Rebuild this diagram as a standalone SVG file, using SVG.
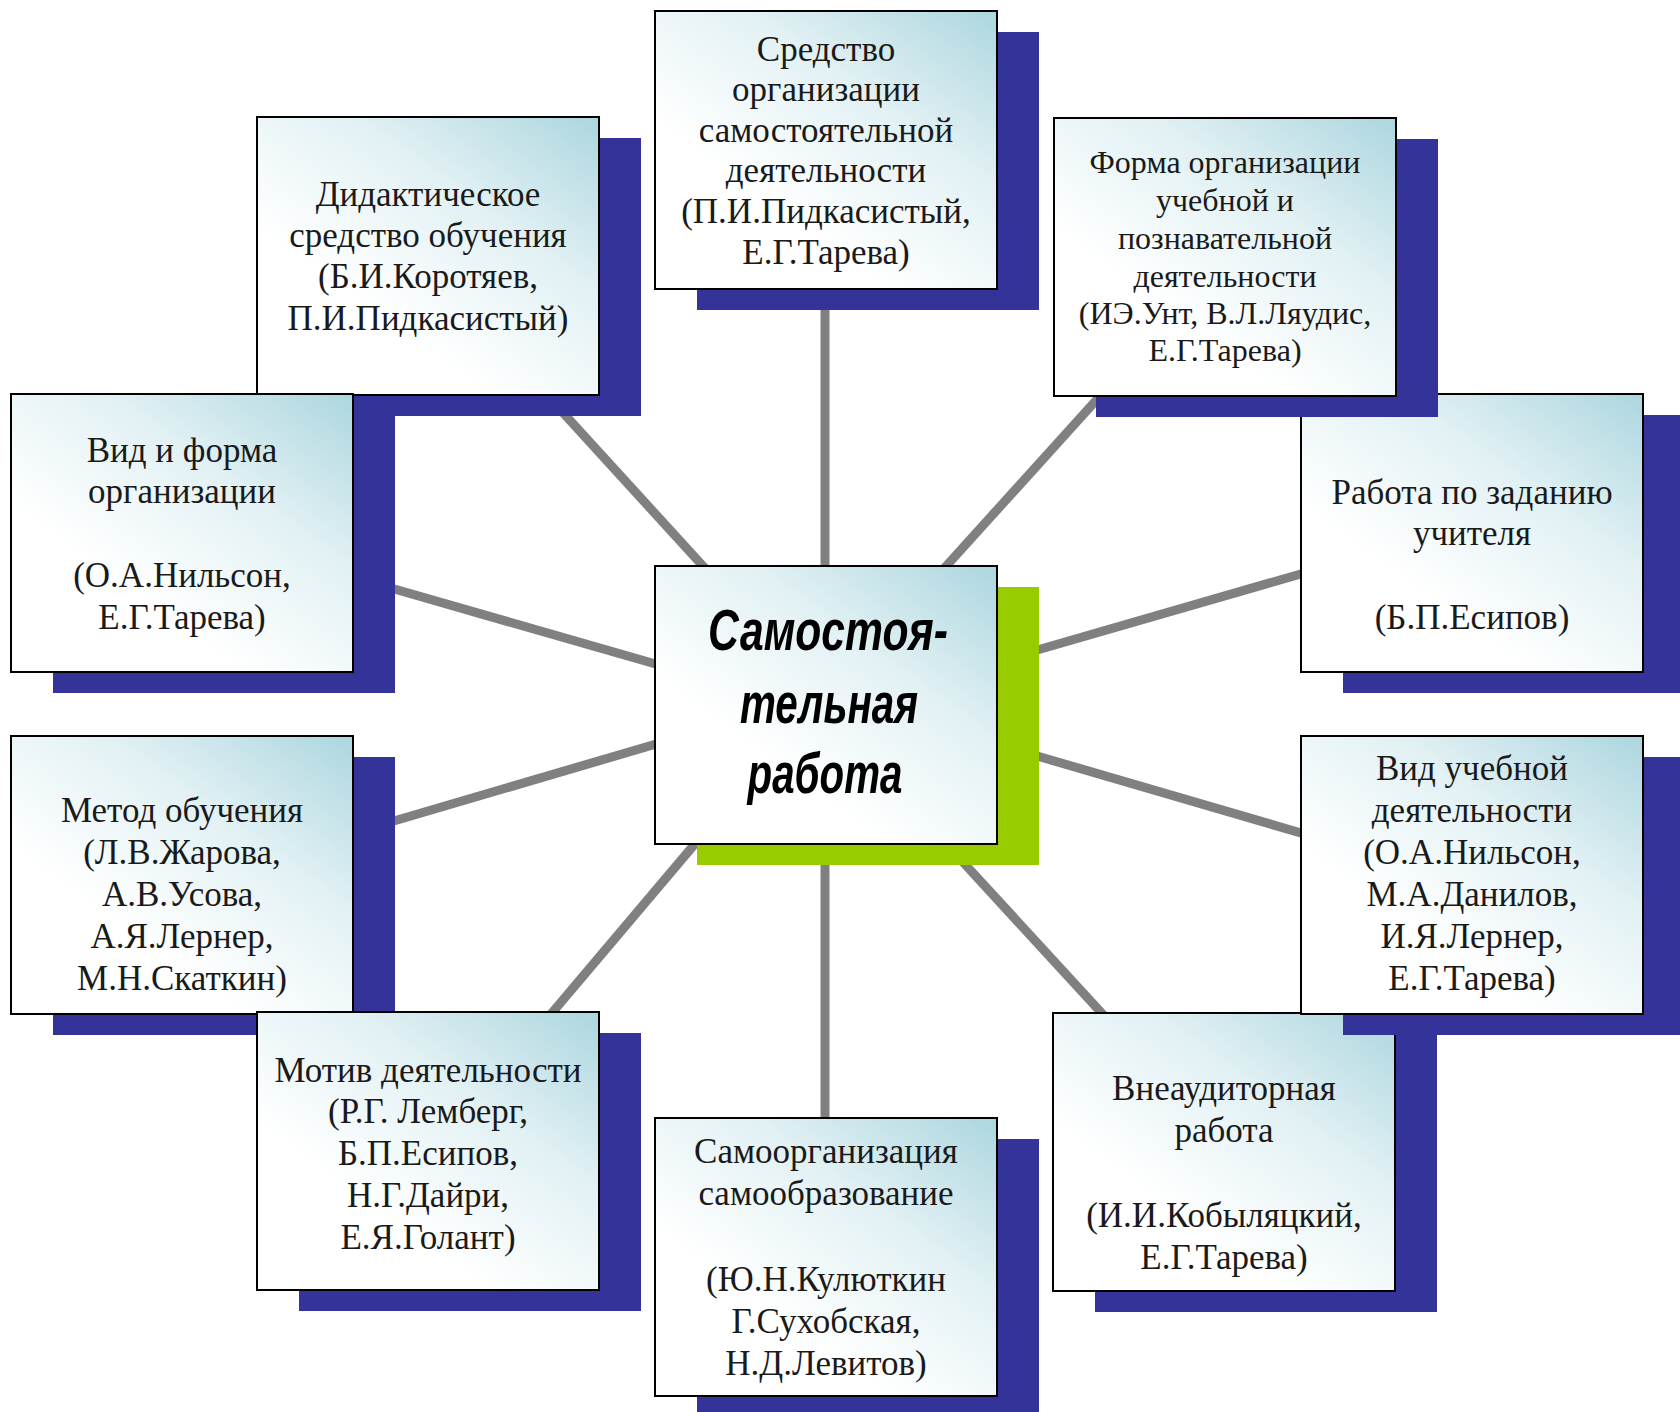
<svg xmlns="http://www.w3.org/2000/svg" width="1680" height="1412" viewBox="0 0 1680 1412">
<defs>
<linearGradient id="boxgrad" x1="1" y1="0" x2="0.2" y2="0.9">
<stop offset="0" stop-color="#acd6df"/>
<stop offset="0.4" stop-color="#e2f1f4"/>
<stop offset="0.8" stop-color="#ffffff"/>
</linearGradient>
<style>
.shadow{fill:#333399}
.gshadow{fill:#99cc00}
.box{fill:url(#boxgrad);stroke:#000;stroke-width:2}
.t{font-family:"Liberation Serif","Times New Roman",serif;font-size:35px;fill:#1a1a1a;text-anchor:middle}
.ts{font-size:32px}
.c{font-family:"Liberation Sans",Arial,sans-serif;font-size:58px;font-weight:bold;font-style:italic;fill:#000;text-anchor:middle}
.ln{stroke:#808080;stroke-width:9;fill:none}
</style>
</defs>
<rect width="1680" height="1412" fill="#ffffff"/>
<g id="connectors">
<line class="ln" x1="825" y1="600" x2="825" y2="270" stroke-width="10"/>
<line class="ln" x1="723" y1="588" x2="545" y2="393" stroke-width="8"/>
<line class="ln" x1="930" y1="584" x2="1110" y2="385" stroke-width="8"/>
<line class="ln" x1="680" y1="671" x2="370" y2="582"/>
<line class="ln" x1="1020" y1="655" x2="1325" y2="567"/>
<line class="ln" x1="680" y1="737" x2="370" y2="828"/>
<line class="ln" x1="1020" y1="751" x2="1325" y2="840"/>
<line class="ln" x1="710" y1="826" x2="535" y2="1033" stroke-width="10"/>
<line class="ln" x1="825" y1="820" x2="825" y2="1140" stroke-width="10"/>
<line class="ln" x1="950" y1="848" x2="1120" y2="1033" stroke-width="8"/>
</g>
<g id="center">
<rect class="gshadow" x="697" y="587" width="342" height="278"/>
<rect class="box" x="655" y="566" width="342" height="278"/>
<text class="c"><tspan x="828" y="650" textLength="240" lengthAdjust="spacingAndGlyphs">Самостоя-</tspan><tspan x="829" y="723" textLength="178" lengthAdjust="spacingAndGlyphs">тельная</tspan><tspan x="825" y="793" textLength="155" lengthAdjust="spacingAndGlyphs">работа</tspan></text>
</g>
<g id="n-sredstvo">
<rect class="shadow" x="697" y="32" width="342" height="278"/>
<rect class="box" x="655" y="11" width="342" height="278"/>
<text class="t"><tspan x="826" y="61">Средство</tspan><tspan x="826" y="101">организации</tspan><tspan x="826" y="142">самостоятельной</tspan><tspan x="826" y="182">деятельности</tspan><tspan x="826" y="223">(П.И.Пидкасистый,</tspan><tspan x="826" y="264">Е.Г.Тарева)</tspan></text>
</g>
<g id="n-rabota">
<rect class="shadow" x="1343" y="415" width="342" height="278"/>
<rect class="box" x="1301" y="394" width="342" height="278"/>
<text class="t"><tspan x="1472" y="504">Работа по заданию</tspan><tspan x="1472" y="545">учителя</tspan><tspan x="1472" y="629">(Б.П.Есипов)</tspan></text>
</g>
<g id="n-forma">
<rect class="shadow" x="1096" y="139" width="342" height="278"/>
<rect class="box" x="1054" y="118" width="342" height="278"/>
<text class="t ts"><tspan x="1225" y="173">Форма организации</tspan><tspan x="1225" y="211">учебной и</tspan><tspan x="1225" y="249">познавательной</tspan><tspan x="1225" y="287">деятельности</tspan><tspan x="1225" y="324">(ИЭ.Унт, В.Л.Ляудис,</tspan><tspan x="1225" y="361">Е.Г.Тарева)</tspan></text>
</g>
<g id="n-didakt">
<rect class="shadow" x="299" y="138" width="342" height="278"/>
<rect class="box" x="257" y="117" width="342" height="278"/>
<text class="t"><tspan x="428" y="206">Дидактическое</tspan><tspan x="428" y="247">средство обучения</tspan><tspan x="428" y="288">(Б.И.Коротяев,</tspan><tspan x="428" y="330">П.И.Пидкасистый)</tspan></text>
</g>
<g id="n-vid-forma">
<rect class="shadow" x="53" y="415" width="342" height="278"/>
<rect class="box" x="11" y="394" width="342" height="278"/>
<text class="t"><tspan x="182" y="462">Вид и форма</tspan><tspan x="182" y="503">организации</tspan><tspan x="182" y="587">(О.А.Нильсон,</tspan><tspan x="182" y="629">Е.Г.Тарева)</tspan></text>
</g>
<g id="n-metod">
<rect class="shadow" x="53" y="757" width="342" height="278"/>
<rect class="box" x="11" y="736" width="342" height="278"/>
<text class="t"><tspan x="182" y="822">Метод обучения</tspan><tspan x="182" y="864">(Л.В.Жарова,</tspan><tspan x="182" y="906">А.В.Усова,</tspan><tspan x="182" y="948">А.Я.Лернер,</tspan><tspan x="182" y="990">М.Н.Скаткин)</tspan></text>
</g>
<g id="n-motiv">
<rect class="shadow" x="299" y="1033" width="342" height="278"/>
<rect class="box" x="257" y="1012" width="342" height="278"/>
<text class="t"><tspan x="428" y="1082">Мотив деятельности</tspan><tspan x="428" y="1123">(Р.Г. Лемберг,</tspan><tspan x="428" y="1165">Б.П.Есипов,</tspan><tspan x="428" y="1207">Н.Г.Дайри,</tspan><tspan x="428" y="1249">Е.Я.Голант)</tspan></text>
</g>
<g id="n-samoorg">
<rect class="shadow" x="697" y="1139" width="342" height="278"/>
<rect class="box" x="655" y="1118" width="342" height="278"/>
<text class="t"><tspan x="826" y="1163">Самоорганизация</tspan><tspan x="826" y="1205">самообразование</tspan><tspan x="826" y="1291">(Ю.Н.Кулюткин</tspan><tspan x="826" y="1333">Г.Сухобская,</tspan><tspan x="826" y="1375">Н.Д.Левитов)</tspan></text>
</g>
<g id="n-vneaud">
<rect class="shadow" x="1095" y="1034" width="342" height="278"/>
<rect class="box" x="1053" y="1013" width="342" height="278"/>
<text class="t"><tspan x="1224" y="1100">Внеаудиторная</tspan><tspan x="1224" y="1142">работа</tspan><tspan x="1224" y="1227">(И.И.Кобыляцкий,</tspan><tspan x="1224" y="1269">Е.Г.Тарева)</tspan></text>
</g>
<g id="n-vid-ucheb">
<rect class="shadow" x="1343" y="757" width="342" height="278"/>
<rect class="box" x="1301" y="736" width="342" height="278"/>
<text class="t"><tspan x="1472" y="780">Вид учебной</tspan><tspan x="1472" y="822">деятельности</tspan><tspan x="1472" y="864">(О.А.Нильсон,</tspan><tspan x="1472" y="906">М.А.Данилов,</tspan><tspan x="1472" y="948">И.Я.Лернер,</tspan><tspan x="1472" y="990">Е.Г.Тарева)</tspan></text>
</g>
</svg>
